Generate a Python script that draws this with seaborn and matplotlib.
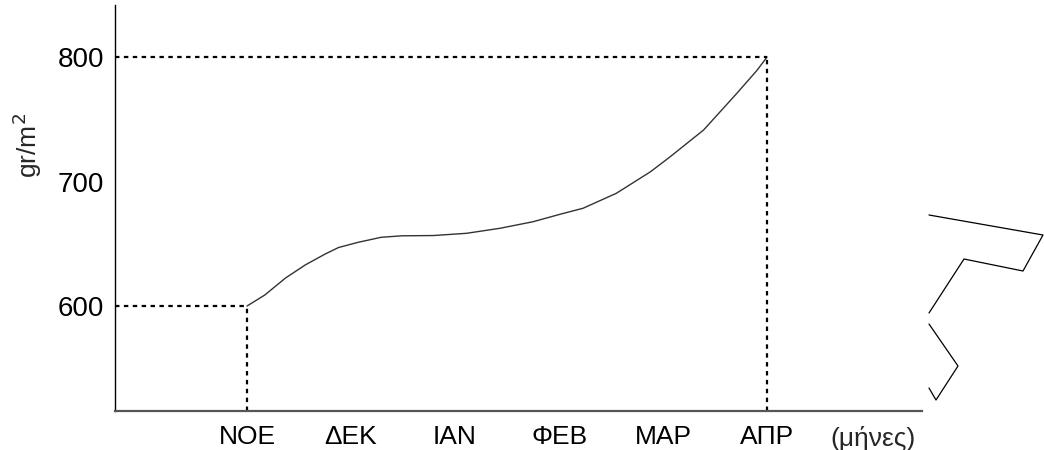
import pandas as pd
import seaborn as sns
import matplotlib.pyplot as plt
from matplotlib.lines import Line2D

# Data (x = month index, 0 = ΝΟΕ)
month_pos = [0, 0.17, 0.37, 0.56, 0.75, 0.88, 1.07, 1.29, 1.49, 1.79,
             2.11, 2.43, 2.75, 3.01, 3.23, 3.55, 3.88, 4.07, 4.39, 4.71,
             4.90, 5.0]
biomass = [600, 608.8, 622.5, 633, 641.7, 647, 651.2, 655.2, 656.4, 656.6,
           658.4, 662.4, 667.7, 673.7, 678.5, 690.5, 707.9, 720, 741.4,
           770.9, 789, 800]
month_labels = ['ΝΟΕ', 'ΔΕΚ', 'ΙΑΝ', 'ΦΕΒ', 'ΜΑΡ', 'ΑΠΡ']
y_ticks = [600, 700, 800]

# stray strokes on the right edge of the scan (figure pixels)
stroke_a = [(929, 215), (1043, 235), (1023, 271), (964, 259), (929, 313)]
stroke_b = [(929, 324), (958, 366), (936, 400), (929, 388)]

sns.set_style("white")
plt.rcParams['font.family'] = ['Liberation Sans', 'DejaVu Sans']

df = pd.DataFrame({'month': month_pos, 'value': biomass})

fig = plt.figure(figsize=(10.44, 4.5), dpi=100)
ax = fig.add_axes([0.1102, 0.0867, 0.773, 0.9023])

sns.lineplot(data=df, x='month', y='value', ax=ax, color='#333333', lw=1.0)

# dotted guides
start_x, start_y = month_pos[0], biomass[0]
end_x, end_y = month_pos[-1], biomass[-1]
ymin, ymax = 515.7, 841.8
xmin, xmax = -1.269, 6.49
dots = dict(color='black', lw=1.6, ls=(0, (2, 2)))
ax.plot([xmin, start_x], [start_y, start_y], **dots)
ax.plot([start_x, start_x], [ymin, start_y], **dots)
ax.plot([xmin, end_x], [end_y, end_y], **dots)
ax.plot([end_x, end_x], [ymin, end_y], **dots)

ax.set_xlim(xmin, xmax)
ax.set_ylim(ymin, ymax)

ax.set_xticks(range(len(month_labels)))
ax.set_xticklabels(month_labels)
ax.set_yticks(y_ticks)
ax.tick_params(axis='x', direction='in', length=9.5, width=0.8, pad=10,
               labelsize=19, colors='black')
ax.tick_params(axis='y', direction='out', length=7, width=0.8, pad=1,
               labelsize=20, colors='black')

ax.text(6.02, -0.037, '(μήνες)', transform=ax.get_xaxis_transform(),
        ha='center', va='top', fontsize=19)

ax.set_xlabel('')
ax.set_ylabel('gr/m$^2$', fontsize=19)
ax.yaxis.set_label_coords(-0.088, 0.653)

for side in ['top', 'right']:
    ax.spines[side].set_visible(False)
ax.spines['left'].set_color('black')
ax.spines['left'].set_linewidth(1.0)
ax.spines['bottom'].set_color('#555555')
ax.spines['bottom'].set_linewidth(1.6)

for stroke in (stroke_a, stroke_b):
    xs = [p[0] / 1044 for p in stroke]
    ys = [1 - p[1] / 450 for p in stroke]
    fig.add_artist(Line2D(xs, ys, color='black', lw=0.9,
                          transform=fig.transFigure))

fig.savefig('out.png', dpi=100)
